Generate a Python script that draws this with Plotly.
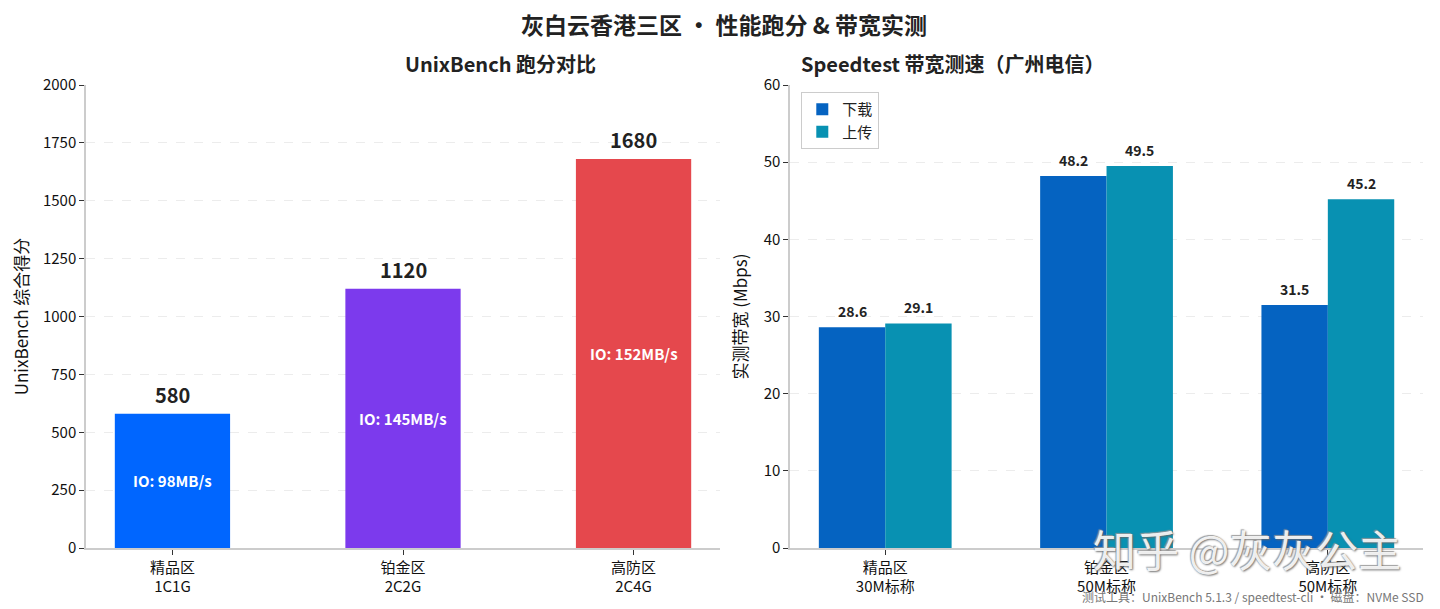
import plotly.graph_objects as go
from plotly.subplots import make_subplots

# === Data ===
zones = ["精品区<br>1C1G", "铂金区<br>2C2G", "高防区<br>2C4G"]
unixbench_scores = [580, 1120, 1680]
io_labels = ["IO: 98MB/s", "IO: 145MB/s", "IO: 152MB/s"]
zone_colors = ["#0066FF", "#7C3AED", "#E5484D"]

bw_zones = ["精品区<br>30M标称", "铂金区<br>50M标称", "高防区<br>50M标称"]
download_mbps = [28.6, 48.2, 31.5]
upload_mbps = [29.1, 49.5, 45.2]

FONT = "Noto Sans CJK SC"

fig = make_subplots(rows=1, cols=2, horizontal_spacing=0.05)

# === UnixBench bars ===
fig.add_trace(go.Bar(
    x=zones, y=unixbench_scores, width=0.5,
    marker=dict(color=zone_colors, line_width=0),
    showlegend=False, hoverinfo="x+y"
), row=1, col=1)

for z, s, io in zip(zones, unixbench_scores, io_labels):
    fig.add_annotation(x=z, y=s, text=f"<b>{s}</b>", showarrow=False,
                       yanchor="bottom", yshift=3, xref="x", yref="y",
                       font=dict(size=20, color="#222", family=FONT))
    fig.add_annotation(x=z, y=s / 2, text=f"<b>{io}</b>", showarrow=False,
                       xref="x", yref="y",
                       font=dict(size=15, color="white", family=FONT))

# === Speedtest bars ===
fig.add_trace(go.Bar(
    x=bw_zones, y=download_mbps, name="下载", width=0.3, offset=-0.3,
    marker=dict(color="#0563C1", line_width=0)
), row=1, col=2)
fig.add_trace(go.Bar(
    x=bw_zones, y=upload_mbps, name="上传", width=0.3, offset=0,
    marker=dict(color="#0891B2", line_width=0)
), row=1, col=2)

for i, (d, u) in enumerate(zip(download_mbps, upload_mbps)):
    fig.add_annotation(x=i - 0.15, y=d, text=f"<b>{d}</b>", showarrow=False,
                       yanchor="bottom", yshift=4, xref="x2", yref="y2",
                       font=dict(size=14, color="#222", family=FONT))
    fig.add_annotation(x=i + 0.15, y=u, text=f"<b>{u}</b>", showarrow=False,
                       yanchor="bottom", yshift=4, xref="x2", yref="y2",
                       font=dict(size=14, color="#222", family=FONT))

axis_common = dict(
    showline=True, linecolor="#cccccc", linewidth=1.5,
    ticks="outside", ticklen=5, tickcolor="#333",
    tickfont=dict(size=15, color="#111", family=FONT),
    zeroline=False,
)

fig.update_xaxes(**axis_common, showgrid=False)
fig.update_xaxes(range=[-0.375, 2.375], domain=[0, 0.4742], row=1, col=1)
fig.update_xaxes(range=[-0.43, 2.43], domain=[0.5266, 1], row=1, col=2)

fig.update_yaxes(**axis_common, showgrid=True, gridcolor="#ececec", griddash="dash")
fig.update_yaxes(range=[0, 2000], dtick=250, row=1, col=1,
                 title=dict(text="UnixBench 综合得分", standoff=12,
                            font=dict(size=17, color="#111", family=FONT)))
fig.update_yaxes(range=[0, 60], dtick=10, row=1, col=2,
                 title=dict(text="实测带宽 (Mbps)", standoff=12,
                            font=dict(size=17, color="#111", family=FONT)))

# subplot titles
fig.add_annotation(x=0.2371, y=1.01, xref="paper", yref="paper", showarrow=False,
                   yanchor="bottom", text="<b>UnixBench 跑分对比</b>",
                   font=dict(size=20, color="#222", family=FONT))
fig.add_annotation(x=0.7633, y=1.01, xref="paper", yref="paper", showarrow=False,
                   yanchor="bottom", text="<b>Speedtest 带宽测速（广州电信）</b>",
                   font=dict(size=20, color="#222", family=FONT))

# footer
fig.add_annotation(x=1.002, y=-0.083, xref="paper", yref="paper", showarrow=False,
                   xanchor="right", yanchor="top",
                   text="测试工具：UnixBench 5.1.3 / speedtest-cli · 磁盘：NVMe SSD",
                   font=dict(size=12, color="#777", family=FONT))

# watermark
fig.add_annotation(x=0.985, y=0.0, xref="paper", yref="paper", showarrow=False,
                   xanchor="right", yanchor="middle",
                   text="知乎 @灰灰公主",
                   font=dict(size=43, color="rgba(255,255,255,0.9)", family=FONT,
                             shadow="1px 1px 2px #666, -1px -1px 1px #999"))

fig.update_layout(
    width=1432, height=601,
    margin=dict(l=78, r=17, t=77, b=61),
    paper_bgcolor="white", plot_bgcolor="white",
    title=dict(text="<b>灰白云香港三区 • 性能跑分 & 带宽实测</b>",
               x=0.5, xanchor="center", y=0.97, yanchor="middle",
               font=dict(size=23, color="#222", family=FONT)),
    barmode="overlay",
    legend=dict(x=0.535, y=0.985, xanchor="left", yanchor="top",
                bgcolor="white", bordercolor="#cccccc", borderwidth=1,
                font=dict(size=15, color="#222", family=FONT)),
    font=dict(family=FONT),
)

fig.write_html("out.html")
